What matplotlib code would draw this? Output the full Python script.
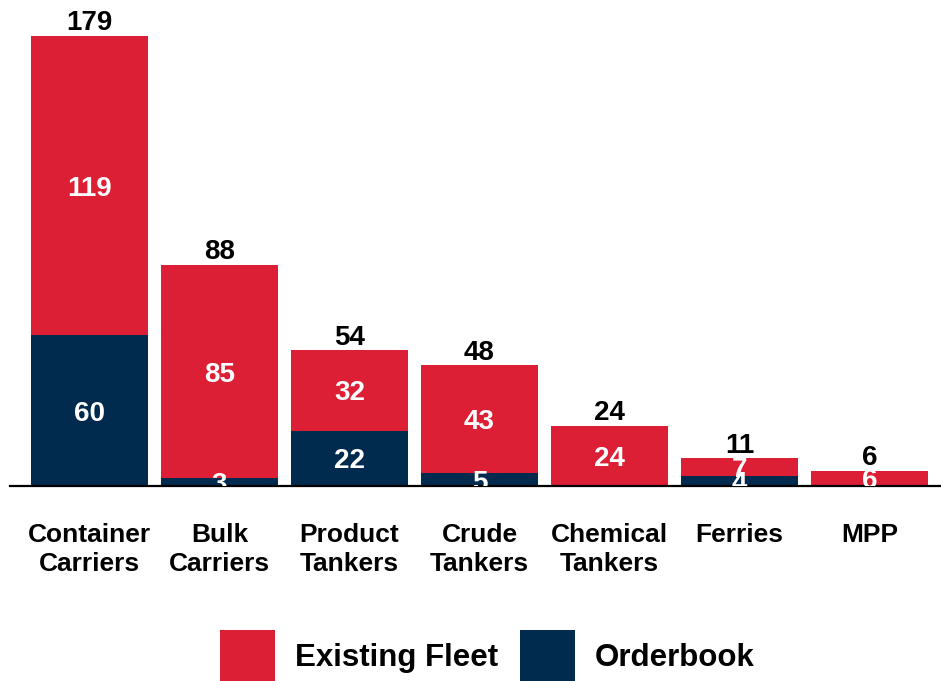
import matplotlib
matplotlib.use("Agg")
import matplotlib.pyplot as plt
import numpy as np

plt.rcParams['font.family'] = ['Liberation Sans', 'DejaVu Sans']
plt.rcParams['font.weight'] = 'bold'

categories = ["Container\nCarriers", "Bulk\nCarriers", "Product\nTankers", "Crude\nTankers",
              "Chemical\nTankers", "Ferries", "MPP"]
orderbook = [60, 3, 22, 5, 0, 4, 0]
existing = [119, 85, 32, 43, 24, 7, 6]
totals = [179, 88, 54, 48, 24, 11, 6]

red = "#DC1F34"
navy = "#002A4E"

fig = plt.figure(figsize=(9.41, 6.81), dpi=100)
ax = fig.add_axes([10 / 941, (681 - 486) / 681, 931 / 941, 486 / 681])

x = np.arange(len(categories))
ax.bar(x, orderbook, width=0.9, color=navy, label="Orderbook")
ax.bar(x, existing, width=0.9, bottom=orderbook, color=red, label="Existing Fleet")

# segment values, clipped at the baseline like the source
for i in range(len(categories)):
    if orderbook[i] > 0:
        ax.text(x[i], orderbook[i] / 2, str(orderbook[i]), ha="center", va="center_baseline",
                color="white", fontsize=20, fontweight="bold", clip_on=True)
    ax.text(x[i], orderbook[i] + existing[i] / 2, str(existing[i]), ha="center",
            va="center_baseline", color="white", fontsize=20, fontweight="bold", clip_on=True)
    ax.annotate(str(totals[i]), (x[i], totals[i]), xytext=(0, 4), textcoords="offset points",
                ha="center", va="baseline", fontsize=20, fontweight="bold", color="black")

ax.set_xlim(-0.6115, 6.55)
ax.set_ylim(0, 193.3)
ax.set_xticks(x)
ax.set_xticklabels(categories, fontsize=19, fontweight="bold", linespacing=1.26)
ax.tick_params(axis="x", length=0, pad=26.5)
ax.set_yticks([])
for s in ["top", "left", "right"]:
    ax.spines[s].set_visible(False)
ax.spines["bottom"].set_linewidth(1.6)
ax.spines["bottom"].set_color("black")

handles, labels = ax.get_legend_handles_labels()
fig.legend(handles[::-1], labels[::-1], loc="center",
           bbox_to_anchor=(487 / 941, (681 - 656) / 681),
           ncol=2, frameon=False, fontsize=22.5, handlelength=1.76, handleheight=2.2,
           handletextpad=0.63, columnspacing=0.7, borderaxespad=0, borderpad=0)

fig.savefig("out.png", dpi=100)
